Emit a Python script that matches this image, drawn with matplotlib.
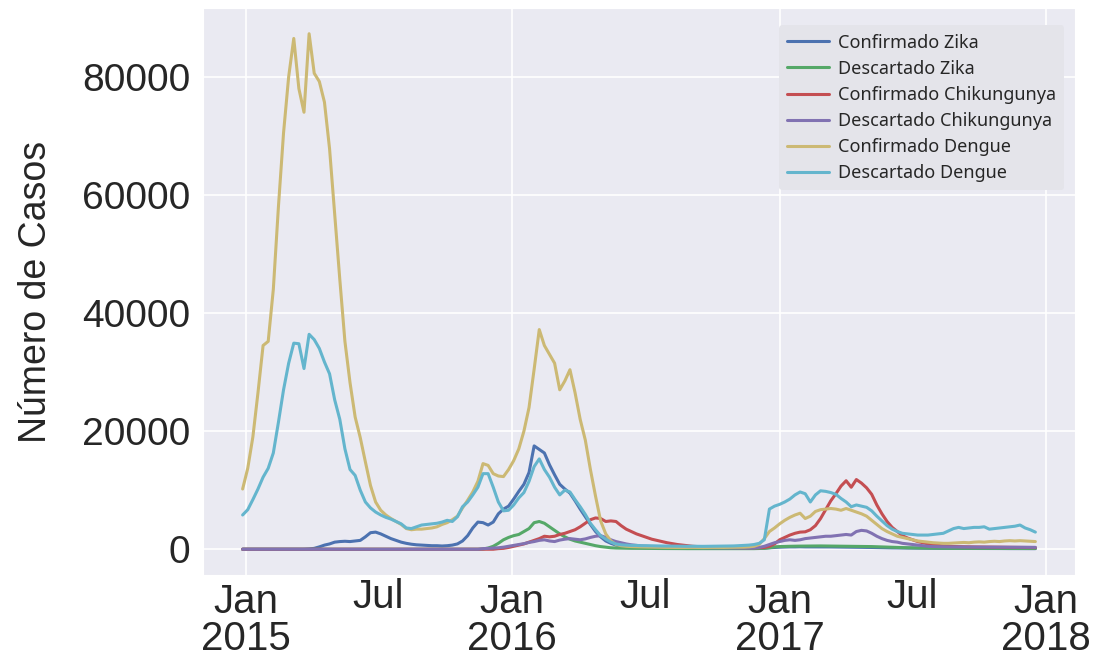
import numpy as np
import pandas as pd
import matplotlib
matplotlib.use('Agg')
import matplotlib.pyplot as plt
import matplotlib.dates as mdates
import seaborn as sns

# weekly notifications, first week ending 2014-12-28
weeks = pd.date_range('2014-12-28', periods=156, freq='7D')

zika_conf = [
    0, 0, 0, 0, 0, 0, 0, 0, 0, 0, 0, 0, 0,
    50, 150, 400, 700, 900, 1200, 1300, 1350, 1300, 1400, 1500, 2100, 2800,
    2900, 2600, 2200, 1800, 1500, 1200, 1000, 850, 750, 700, 650, 600, 600,
    550, 600, 700, 900, 1400, 2300, 3600, 4600, 4500, 4100, 4600, 6000, 6800,
    7300, 8500, 9800, 11000, 13000, 17500, 16900, 16300, 14300, 12600, 11000, 10200, 9500,
    8200, 6800, 5500, 4200, 3000, 2100, 1400, 1000, 700, 500, 400, 350, 300,
    280, 260, 250, 240, 230, 220, 210, 200, 200, 200, 190, 190, 180,
    180, 180, 170, 170, 170, 160, 160, 160, 150, 150, 160, 180, 250,
    300, 350, 380, 400, 400, 420, 400, 400, 410, 400, 400, 390, 380,
    370, 360, 350, 350, 340, 320, 300, 280, 260, 250, 230, 220, 200,
    200, 190, 180, 170, 160, 150, 150, 150, 140, 140, 140, 130, 130,
    130, 130, 120, 120, 120, 120, 110, 110, 110, 110, 100, 100, 100,
]
zika_desc = [
    0, 0, 0, 0, 0, 0, 0, 0, 0, 0, 0, 0, 0,
    0, 0, 0, 0, 0, 0, 0, 0, 0, 0, 0, 0, 0,
    0, 0, 0, 0, 0, 0, 0, 0, 0, 0, 0, 0, 0,
    0, 0, 0, 0, 0, 0, 0, 0, 50, 200, 500, 1000, 1600,
    2000, 2300, 2500, 3000, 3500, 4500, 4700, 4400, 3800, 3200, 2600, 2100, 1700,
    1400, 1200, 1000, 800, 600, 450, 350, 250, 200, 180, 160, 150, 150,
    140, 140, 130, 130, 120, 120, 110, 110, 100, 100, 100, 100, 100,
    100, 100, 100, 100, 100, 100, 100, 100, 100, 100, 120, 150, 250,
    400, 450, 480, 500, 520, 530, 540, 550, 550, 560, 550, 550, 540,
    530, 520, 510, 500, 490, 470, 450, 420, 400, 370, 340, 300, 270,
    250, 230, 210, 200, 190, 180, 170, 160, 160, 150, 150, 150, 150,
    150, 150, 140, 140, 140, 140, 140, 130, 130, 130, 130, 130, 130,
]
chik_conf = [
    0, 0, 0, 0, 0, 0, 0, 0, 0, 0, 0, 0, 0,
    0, 0, 0, 0, 0, 0, 0, 0, 0, 0, 0, 0, 0,
    0, 0, 0, 0, 0, 0, 0, 0, 0, 0, 0, 0, 0,
    0, 0, 0, 0, 0, 0, 0, 0, 0, 0, 0, 100, 150,
    300, 500, 700, 900, 1200, 1500, 1800, 2200, 2100, 2200, 2500, 2700, 3000,
    3300, 3800, 4400, 5000, 5300, 5200, 4700, 4800, 4700, 4000, 3400, 3000, 2600,
    2300, 2000, 1700, 1500, 1300, 1100, 950, 800, 700, 600, 500, 450, 400,
    380, 360, 340, 320, 300, 290, 280, 270, 260, 250, 260, 300, 500,
    900, 1600, 2000, 2400, 2700, 2900, 2950, 3300, 4000, 5200, 6700, 8200, 9400,
    10700, 11600, 10500, 11800, 11200, 10400, 9300, 7500, 6000, 4700, 3700, 3000, 2300,
    1900, 1600, 1300, 1100, 900, 750, 650, 550, 500, 460, 440, 420, 400,
    390, 380, 370, 360, 350, 340, 330, 320, 310, 300, 300, 290, 280,
]
chik_desc = [
    0, 0, 0, 0, 0, 0, 0, 0, 0, 0, 0, 0, 0,
    0, 0, 0, 0, 0, 0, 0, 0, 0, 0, 0, 0, 0,
    0, 0, 0, 0, 0, 0, 0, 0, 0, 0, 0, 0, 0,
    0, 0, 0, 0, 0, 0, 0, 0, 100, 150, 200, 250, 350,
    500, 650, 800, 950, 1150, 1300, 1500, 1600, 1400, 1300, 1550, 1700, 1800,
    1700, 1600, 1750, 2000, 2200, 2300, 2000, 1600, 1300, 1100, 900, 750, 650,
    550, 500, 450, 420, 400, 380, 360, 340, 320, 300, 290, 280, 270,
    260, 250, 240, 230, 220, 210, 200, 200, 200, 200, 300, 500, 800,
    1100, 1300, 1500, 1600, 1500, 1600, 1800, 1900, 2000, 2100, 2200, 2200, 2300,
    2400, 2500, 2400, 3000, 3200, 3100, 2700, 2200, 1800, 1500, 1300, 1200, 1000,
    900, 800, 700, 600, 500, 450, 430, 420, 400, 400, 390, 380, 370,
    370, 360, 360, 350, 350, 350, 340, 340, 340, 330, 330, 330, 320,
]
dengue_conf = [
    10200, 13700, 19000, 26500, 34500, 35200, 44000, 58000, 70500, 80000, 86500, 78000, 74000,
    87300, 80600, 79200, 75700, 67800, 56700, 45700, 35200, 28200, 22400, 18900, 14800, 10800,
    8000, 6600, 5800, 5200, 4700, 4200, 3500, 3300, 3400, 3400, 3500, 3600, 3800,
    4200, 4500, 5000, 5600, 7000, 8300, 9700, 11500, 14500, 14200, 12800, 12400, 12300,
    13500, 15000, 17000, 20000, 24000, 30500, 37200, 34500, 33000, 31500, 27000, 28500, 30400,
    26500, 22000, 18500, 13500, 9000, 4800, 2600, 1400, 800, 600, 500, 450, 420,
    400, 380, 350, 330, 320, 310, 300, 300, 290, 300, 310, 300, 290,
    300, 310, 300, 300, 320, 330, 340, 350, 400, 500, 800, 1800, 3000,
    3600, 4300, 4900, 5400, 5800, 6100, 5200, 5600, 6400, 6700, 6800, 6900, 6800,
    6600, 6900, 6600, 6300, 6000, 5600, 4900, 4200, 3500, 3000, 2600, 2200, 2000,
    1800, 1600, 1400, 1300, 1200, 1100, 1050, 1000, 1000, 1050, 1100, 1150, 1100,
    1200, 1250, 1200, 1300, 1350, 1300, 1400, 1450, 1400, 1450, 1400, 1350, 1300,
]
dengue_desc = [
    5800, 6700, 8400, 10200, 12200, 13700, 16300, 21500, 27000, 31500, 34900, 34800, 30600,
    36400, 35500, 34000, 31700, 29700, 25300, 22000, 17000, 13500, 12500, 10000, 8000, 7000,
    6300, 5800, 5400, 5100, 4700, 4300, 3600, 3500, 3800, 4100, 4200, 4300, 4400,
    4600, 4900, 4700, 5500, 7200, 8000, 9200, 10500, 12800, 12800, 10500, 8000, 6500,
    6600, 7500, 8700, 9600, 11500, 14000, 15300, 13500, 12200, 10500, 9200, 10000, 9700,
    8400, 7200, 5900, 4400, 3300, 2300, 1700, 1200, 900, 750, 700, 650, 650,
    600, 600, 580, 560, 550, 540, 520, 520, 500, 500, 510, 500, 490,
    500, 500, 510, 520, 540, 560, 600, 650, 700, 800, 1000, 1600, 6800,
    7300, 7600, 8000, 8500, 9200, 9700, 9400, 8000, 9200, 9900, 9800, 9600, 9300,
    8600, 8000, 7200, 7500, 7300, 7100, 6500, 5600, 4800, 4000, 3400, 3000, 2700,
    2600, 2500, 2400, 2400, 2400, 2500, 2600, 2700, 3100, 3500, 3700, 3500, 3600,
    3700, 3700, 3800, 3400, 3500, 3600, 3700, 3800, 3900, 4100, 3600, 3300, 2900,
]

series = [
    ('Confirmado Zika', zika_conf),
    ('Descartado Zika', zika_desc),
    ('Confirmado Chikungunya', chik_conf),
    ('Descartado Chikungunya', chik_desc),
    ('Confirmado Dengue', dengue_conf),
    ('Descartado Dengue', dengue_desc),
]
colors = ['#4C72B0', '#55A868', '#C44E52', '#8172B2', '#CCB974', '#64B5CD']

sns.set_style('darkgrid')
plt.rcParams['font.family'] = ['Liberation Sans', 'DejaVu Sans']

fig = plt.figure(figsize=(11.02, 6.62), dpi=100)
ax = fig.add_axes([0.1842, 0.1314, 0.7913, 0.8566])

for (name, values), color in zip(series, colors):
    ax.plot(weeks, values, color=color, lw=2.2, label=name)

ax.xaxis.set_major_locator(mdates.YearLocator())
ax.xaxis.set_major_formatter(mdates.DateFormatter('%b\n%Y'))
ax.xaxis.set_minor_locator(mdates.MonthLocator(bymonth=7))
ax.xaxis.set_minor_formatter(mdates.DateFormatter('%b'))
ax.grid(True, which='major', color='white', lw=1.2)

ax.tick_params(axis='x', which='major', length=0, pad=6)
ax.tick_params(axis='x', which='minor', length=0, pad=2)
ax.tick_params(axis='y', length=0, pad=9, labelsize=28)
fig.canvas.draw()
for lab in ax.get_xticklabels(which='major'):
    lab.set_fontsize(29)
    lab.set_linespacing(0.97)
for lab in ax.get_xticklabels(which='minor'):
    lab.set_fontsize(29)

ax.set_ylabel('Número de Casos', fontsize=27)
ax.yaxis.set_label_coords(-0.171, 0.5)

leg = ax.legend(loc='upper right', bbox_to_anchor=(0.998, 0.985), frameon=True,
                prop={'family': 'Noto Sans', 'size': 13}, labelspacing=0.45,
                handlelength=2.3, handletextpad=0.5, borderpad=0.45)
leg.get_frame().set_facecolor('#e4e4ea')
leg.get_frame().set_edgecolor('none')
leg.get_frame().set_alpha(1)

fig.savefig('out.png', dpi=100)
